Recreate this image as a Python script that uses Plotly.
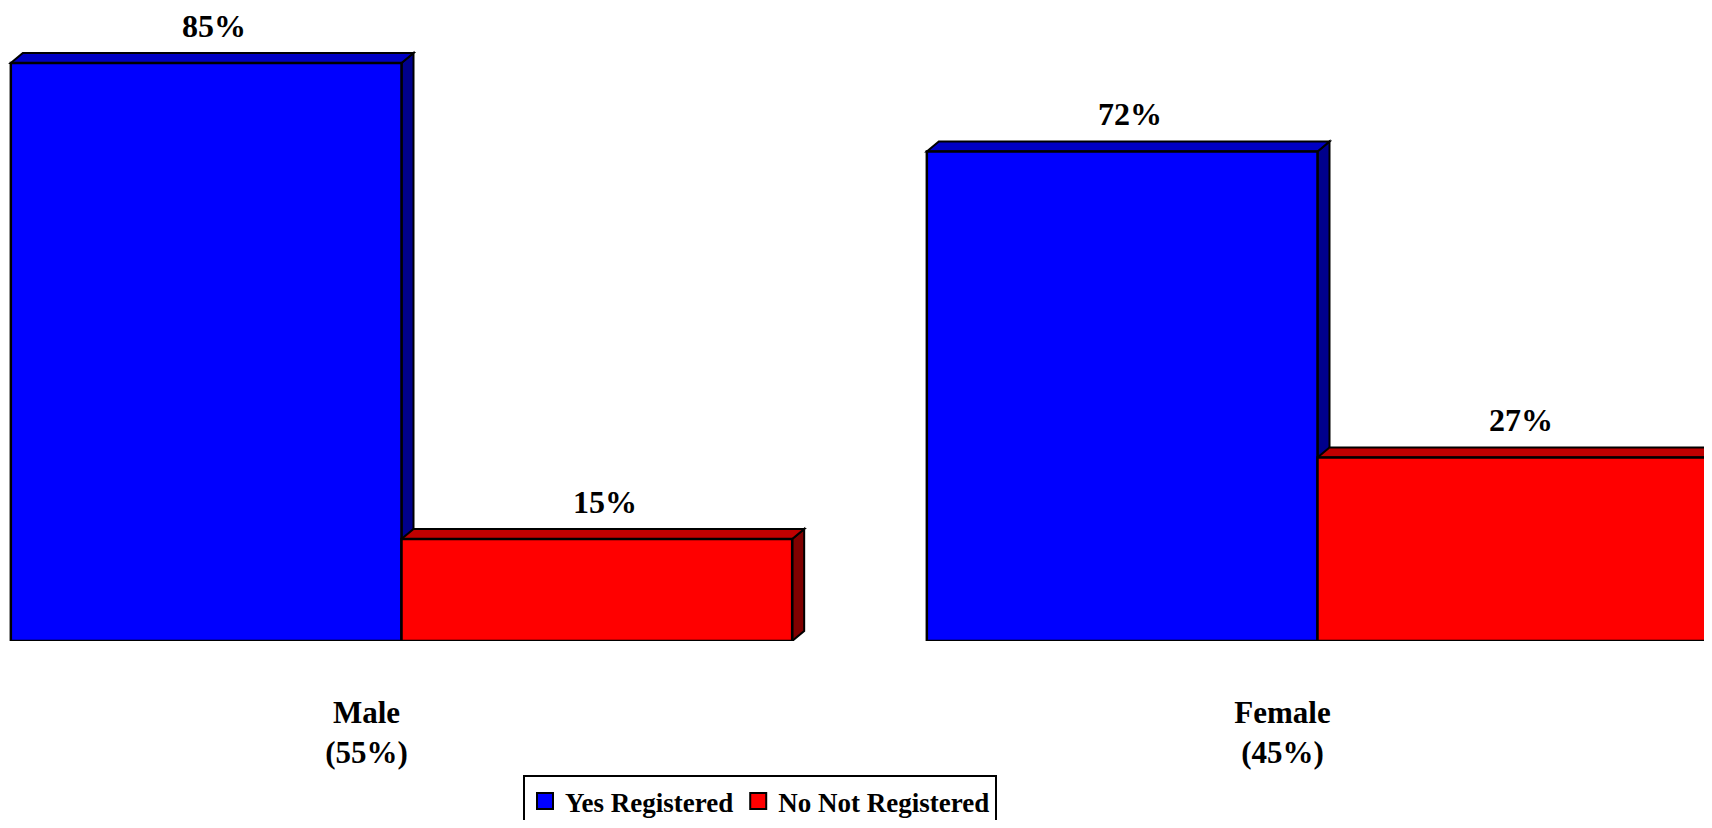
import plotly.graph_objects as go

# ---- data ----
categories = ["Male", "Female"]
category_shares = ["55%", "45%"]
series_names = ["Yes Registered", "No Not Registered"]
yes_registered = [85, 72]
no_registered = [15, 27]

# ---- style ----
# the page body keeps its default 8px margin, so the figure is sized to fit inside it
W, H = 1696, 812
M_L, M_R, M_T, M_B = 0, 0, 0, 179
X_RANGE = [-0.42959, 1.42194]
Y_RANGE = [0, 93.09]
BARGAP = 0.147
FRONT = ["#0000FF", "#FF0000"]
TOP = ["#0000C4", "#C00000"]
SIDE = ["#00008C", "#800000"]
DEPTH_X_PX, DEPTH_Y_PX = 12, 10
FONT = "Liberation Serif"

plot_w = W - M_L - M_R
plot_h = H - M_T - M_B
dx = DEPTH_X_PX * (X_RANGE[1] - X_RANGE[0]) / plot_w
dy = DEPTH_Y_PX * (Y_RANGE[1] - Y_RANGE[0]) / plot_h
bar_w = (1 - BARGAP) / 2

xs = list(range(len(categories)))
series = [yes_registered, no_registered]

fig = go.Figure()
for s, (name, vals) in enumerate(zip(series_names, series)):
    fig.add_trace(go.Bar(
        x=xs, y=vals, name=name, width=bar_w,
        offset=-bar_w + s * bar_w, showlegend=False, legendgroup=name,
        marker=dict(color=FRONT[s], line=dict(color="black", width=2.5)),
    ))
# legend entries (larger square swatches)
for s, name in enumerate(series_names):
    fig.add_trace(go.Scatter(
        x=[None], y=[None], mode="markers", name=name, legendgroup=name,
        marker=dict(symbol="square", size=16, color=FRONT[s],
                    line=dict(color="black", width=2)),
    ))

shapes = []
annotations = []
for i, x in enumerate(xs):
    for s, vals in enumerate(series):
        v = vals[i]
        x0 = x - bar_w + s * bar_w
        x1 = x0 + bar_w
        # side face
        shapes.append(dict(
            type="path", xref="x", yref="y", layer="below",
            path=f"M{x1},{0} L{x1},{v} L{x1+dx},{v+dy} L{x1+dx},{dy} Z",
            fillcolor=SIDE[s], line=dict(color="black", width=2),
        ))
        # top face
        shapes.append(dict(
            type="path", xref="x", yref="y", layer="below",
            path=f"M{x0},{v} L{x1},{v} L{x1+dx},{v+dy} L{x0+dx},{v+dy} Z",
            fillcolor=TOP[s], line=dict(color="black", width=2),
        ))
        annotations.append(dict(
            x=(x0 + x1) / 2, y=v, xref="x", yref="y",
            text=f"{v}%", showarrow=False, xshift=8, yshift=37,
            font=dict(family=FONT, size=32, color="black", weight="bold"),
        ))

fig.update_layout(
    width=W, height=H,
    margin=dict(l=M_L, r=M_R, t=M_T, b=M_B, pad=0, autoexpand=False),
    paper_bgcolor="white", plot_bgcolor="white",
    bargap=BARGAP, bargroupgap=0, barmode="group",
    shapes=shapes, annotations=annotations,
    showlegend=True,
    legend=dict(
        orientation="h", x=515 / W, xanchor="left",
        y=(plot_h - 767) / plot_h, yanchor="top",
        bordercolor="black", borderwidth=2, bgcolor="white",
        font=dict(family=FONT, size=27, color="black", weight="bold"),
        traceorder="normal", itemsizing="trace",
    ),
    xaxis=dict(
        range=X_RANGE, tickmode="array", tickvals=xs,
        ticktext=[f"{c}<br>({p})" for c, p in zip(categories, category_shares)],
        showgrid=False, zeroline=False, showline=False, ticks="",
        ticklabelshift=-35, ticklabelstandoff=50, automargin=False,
        tickfont=dict(family=FONT, size=31, color="black", weight="bold"),
    ),
    yaxis=dict(range=Y_RANGE, visible=False, showgrid=False, zeroline=False),
)

fig.write_html("out.html")
